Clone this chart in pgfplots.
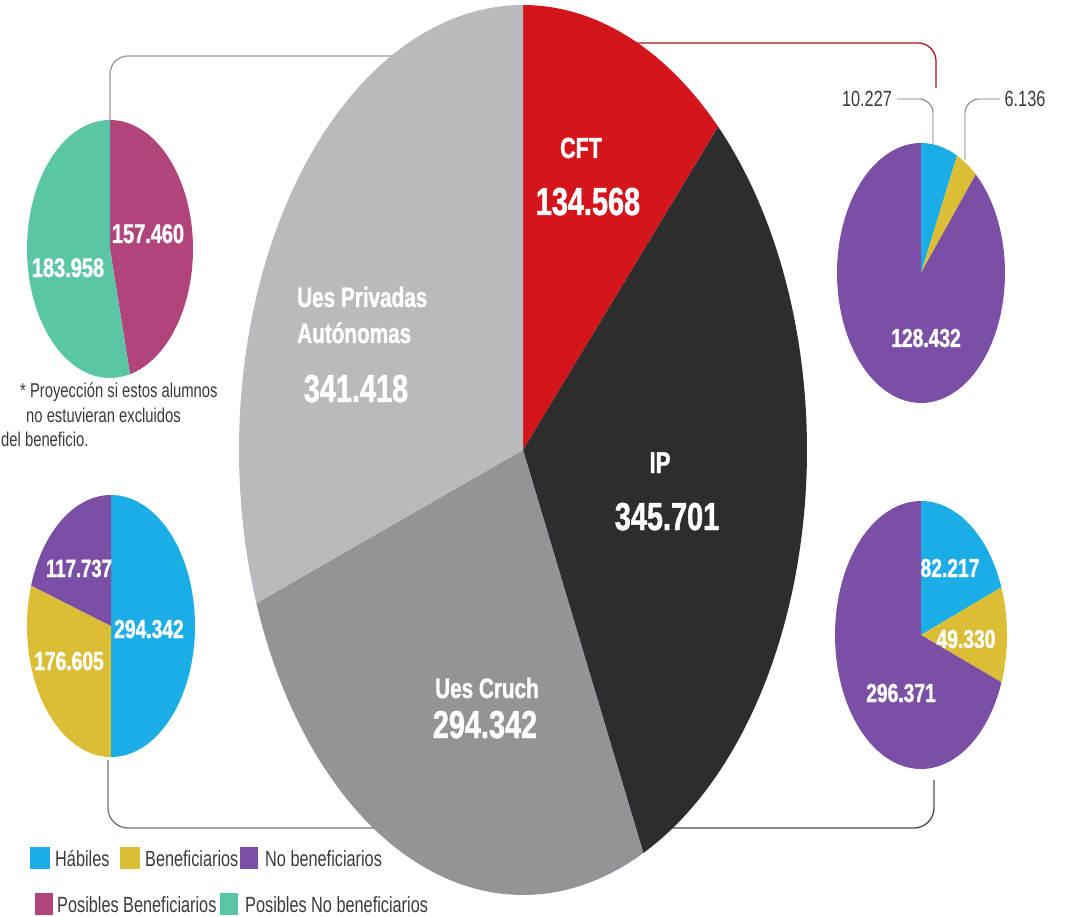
\documentclass[border=0pt]{standalone}
\usepackage{pgfplots}
\pgfplotsset{compat=1.18}
\usepackage{fontspec}
\setmainfont{Liberation Sans}
\newfontfamily\cond[FakeStretch=0.74]{Liberation Sans}
\newfontfamily\condb[FakeStretch=0.74, FakeBold=1.2]{Liberation Sans Bold}
\definecolor{cRed}{HTML}{D4161C}
\definecolor{cBlack}{HTML}{2D2D2D}
\definecolor{cMid}{HTML}{939398}
\definecolor{cLight}{HTML}{B9B9BE}
\definecolor{cCyan}{HTML}{1BAEE6}
\definecolor{cYellow}{HTML}{DBBE35}
\definecolor{cPurple}{HTML}{7A4FA5}
\definecolor{cMagenta}{HTML}{B2447C}
\definecolor{cTeal}{HTML}{5BC6A6}
\definecolor{cText}{HTML}{3A3A3A}
% #1 cx, #2 cy, #3 rx, #4 ry, #5 total, #6 cumulative start, #7 value, #8 colour
\newcommand{\slice}[8]{%
  \pgfmathsetmacro\angA{90-360*((#6+#7)/#5)}%
  \pgfmathsetmacro\angB{90-360*((#6)/#5)}%
  \addplot[fill=#8, draw=none, no markers, forget plot, samples=90, variable=\t,
    domain=\angA:\angB]
    ({#1+#3*cos(\t)},{#2-#4*sin(\t)}) -- (axis cs:#1,#2) -- cycle;}
\newcommand{\bw}[1]{\condb\fontsize{#1}{#1}\selectfont}
\newcommand{\rg}[1]{\cond\fontsize{#1}{#1}\selectfont}
\begin{document}
\begin{tikzpicture}
\begin{axis}[width=1066pt, height=917pt, scale only axis, at={(0,0)}, anchor=south west,
  xmin=0, xmax=1066, ymin=0, ymax=917, y dir=reverse,
  hide axis, clip=false]
% brackets
\draw[color=black!40, line width=1.3pt, rounded corners=18pt]
  (axis cs:400,56) -- (axis cs:110,56) -- (axis cs:110,124);
\draw[color=black!55, line width=1.3pt, rounded corners=20pt]
  (axis cs:108,760) -- (axis cs:108,828) -- (axis cs:400,828);
\draw[color=cRed!85!black, line width=1.3pt, rounded corners=18pt]
  (axis cs:620,43) -- (axis cs:936,43) -- (axis cs:936,88);
\draw[color=black!68, line width=1.4pt, rounded corners=20pt]
  (axis cs:934,780) -- (axis cs:934,828) -- (axis cs:650,828);
% leader lines
\draw[color=black!55, line width=0.9pt, rounded corners=14pt]
  (axis cs:897,99) -- (axis cs:933,99) -- (axis cs:933,146);
\draw[color=black!55, line width=0.9pt, rounded corners=14pt]
  (axis cs:1000,99) -- (axis cs:965,99) -- (axis cs:965,160);
% big pie (thousands)
\slice{523}{450}{284}{445}{1116.029}{0}{134.568}{cRed}
\slice{523}{450}{284}{445}{1116.029}{134.568}{345.701}{cBlack}
\slice{523}{450}{284}{445}{1116.029}{480.269}{294.342}{cMid}
\slice{523}{450}{284}{445}{1116.029}{774.611}{341.418}{cLight}
% top-left pie
\slice{110}{249}{83}{129}{341.418}{0}{157.460}{cMagenta}
\slice{110}{249}{83}{129}{341.418}{157.460}{183.958}{cTeal}
% top-right pie
\slice{921}{273}{84}{130}{144.795}{0}{10.227}{cCyan}
\slice{921}{273}{84}{130}{144.795}{10.227}{6.136}{cYellow}
\slice{921}{273}{84}{130}{144.795}{16.363}{128.432}{cPurple}
% bottom-left pie
\slice{111}{626}{84}{131}{588.684}{0}{294.342}{cCyan}
\slice{111}{626}{84}{131}{588.684}{294.342}{176.605}{cYellow}
\slice{111}{626}{84}{131}{588.684}{470.947}{117.737}{cPurple}
% bottom-right pie
\slice{921}{635}{86}{134}{427.918}{0}{82.217}{cCyan}
\slice{921}{635}{86}{134}{427.918}{82.217}{49.330}{cYellow}
\slice{921}{635}{86}{134}{427.918}{131.547}{296.371}{cPurple}
% big pie labels
\node[anchor=base, text=white, font=\bw{29}] at (axis cs:581,158) {CFT};
\node[anchor=base, text=white, font=\bw{39}] at (axis cs:588,215) {134.568};
\node[anchor=base, text=white, font=\bw{30}] at (axis cs:660,473) {IP};
\node[anchor=base, text=white, font=\bw{39}] at (axis cs:667,530) {345.701};
\node[anchor=base west, inner xsep=0pt, text=white, font=\bw{28}] at (axis cs:297,307) {Ues Privadas};
\node[anchor=base west, inner xsep=0pt, text=white, font=\bw{28}] at (axis cs:297,343) {Autónomas};
\node[anchor=base, text=white, font=\bw{39}] at (axis cs:356,402) {341.418};
\node[anchor=base, text=white, font=\bw{28}] at (axis cs:487,698) {Ues Cruch};
\node[anchor=base, text=white, font=\bw{39}] at (axis cs:485,738) {294.342};
% small pie labels
\node[anchor=base, text=white, font=\bw{27}] at (axis cs:148,243) {157.460};
\node[anchor=base, text=white, font=\bw{27}] at (axis cs:68,277) {183.958};
\node[anchor=base, text=white, font=\bw{25}] at (axis cs:79,577) {117.737};
\node[anchor=base, text=white, font=\bw{26}] at (axis cs:149,638) {294.342};
\node[anchor=base, text=white, font=\bw{26}] at (axis cs:69,670) {176.605};
\node[anchor=base, text=white, font=\bw{26}] at (axis cs:926,347) {128.432};
\node[anchor=base, text=white, font=\bw{26}] at (axis cs:950,577) {82.217};
\node[anchor=base, text=white, font=\bw{26}] at (axis cs:966,648) {49.330};
\node[anchor=base, text=white, font=\bw{26}] at (axis cs:901,702) {296.371};
\node[anchor=base, text=cText, font=\rg{22}] at (axis cs:867,107) {10.227};
\node[anchor=base, text=cText, font=\rg{22}] at (axis cs:1025,107) {6.136};
% footnote
\node[anchor=base west, inner xsep=0pt, text=cText, font=\rg{20}] at (axis cs:20,398) {* Proyección si estos alumnos};
\node[anchor=base west, inner xsep=0pt, text=cText, font=\rg{20}] at (axis cs:26,422) {no estuvieran excluidos};
\node[anchor=base west, inner xsep=0pt, text=cText, font=\rg{20}] at (axis cs:1,446) {del beneficio.};
% legend
\fill[cCyan] (axis cs:30,847) rectangle (axis cs:50,869);
\node[anchor=base west, inner xsep=0pt, text=cText, font=\rg{22}] at (axis cs:55,866) {Hábiles};
\fill[cYellow] (axis cs:120,847) rectangle (axis cs:140,869);
\node[anchor=base west, inner xsep=0pt, text=cText, font=\rg{22}] at (axis cs:145,866) {Beneficiarios};
\fill[cPurple] (axis cs:240,847) rectangle (axis cs:258,869);
\node[anchor=base west, inner xsep=0pt, text=cText, font=\rg{22}] at (axis cs:265,866) {No beneficiarios};
\fill[cMagenta] (axis cs:35,893) rectangle (axis cs:53,915);
\node[anchor=base west, inner xsep=0pt, text=cText, font=\rg{22}] at (axis cs:57,912) {Posibles Beneficiarios};
\fill[cTeal] (axis cs:220,893) rectangle (axis cs:238,915);
\node[anchor=base west, inner xsep=0pt, text=cText, font=\rg{22}] at (axis cs:245,912) {Posibles No beneficiarios};
\end{axis}
\pgfresetboundingbox
\path[use as bounding box] (0,0) rectangle (1066pt,917pt);
\end{tikzpicture}
\end{document}
